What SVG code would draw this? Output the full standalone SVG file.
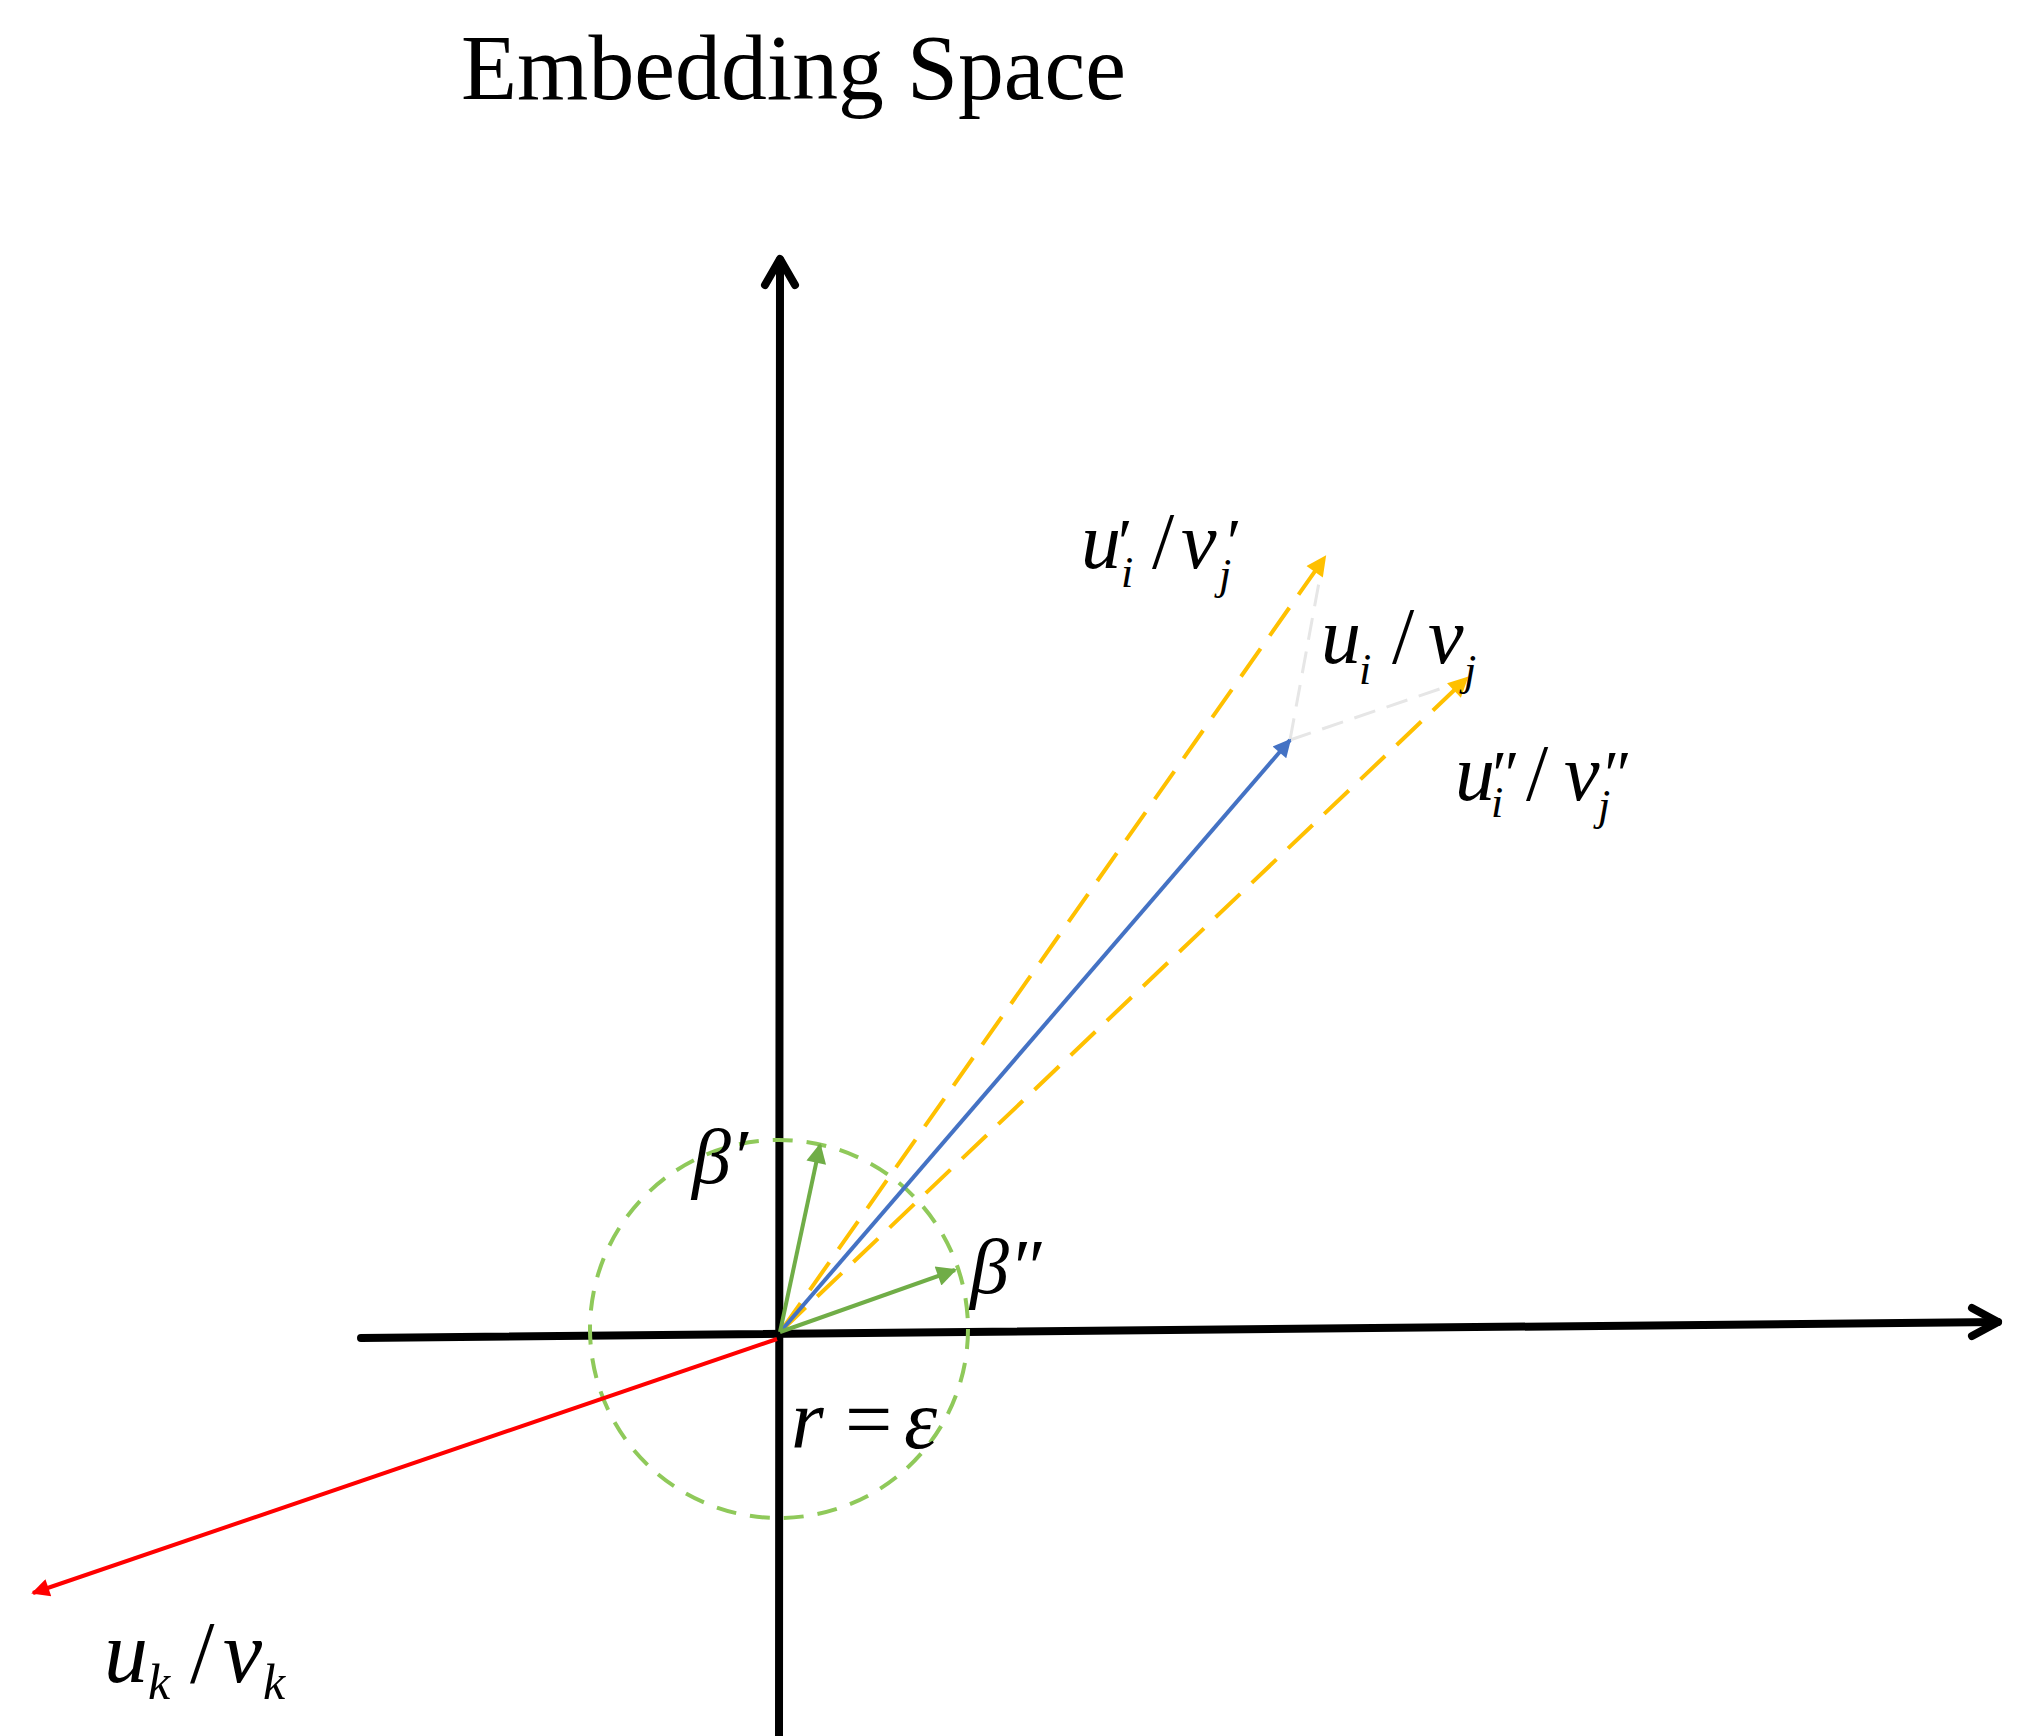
<svg xmlns="http://www.w3.org/2000/svg" width="2032" height="1736" viewBox="0 0 2032 1736">
<style>
.title{font-family:"Liberation Serif","Times New Roman",serif;font-size:94px;fill:#000}
.m{font-family:"Liberation Serif","Times New Roman",serif;font-style:italic;fill:#000}
.up{font-style:normal}
.axis{stroke:#000;stroke-width:8;fill:none;stroke-linecap:round;stroke-linejoin:round}
.blue{stroke:#4472C4;stroke-width:4;fill:none}
.yel{stroke:#FFC000;stroke-width:4;fill:none;stroke-dasharray:34 16}
.grey{stroke:#E6E6E6;stroke-width:3;fill:none;stroke-dasharray:22 12}
.green{stroke:#70AD47;stroke-width:4;fill:none}
.red{stroke:#FF0000;stroke-width:4;fill:none}
.circ{stroke:#8FC95A;stroke-width:4;fill:none;stroke-dasharray:20 14}
</style>
<defs>
<marker id="ab" viewBox="0 0 10 10" refX="9" refY="5" markerUnits="userSpaceOnUse" markerWidth="22" markerHeight="18" orient="auto"><path d="M0,0 L10,5 L0,10 Z" fill="#4472C4"/></marker>
<marker id="ay" viewBox="0 0 10 10" refX="9" refY="5" markerUnits="userSpaceOnUse" markerWidth="24" markerHeight="20" orient="auto"><path d="M0,0 L10,5 L0,10 Z" fill="#FFC000"/></marker>
<marker id="ag" viewBox="0 0 10 10" refX="9" refY="5" markerUnits="userSpaceOnUse" markerWidth="24" markerHeight="20" orient="auto"><path d="M0,0 L10,5 L0,10 Z" fill="#70AD47"/></marker>
<marker id="ar" viewBox="0 0 10 10" refX="9" refY="5" markerUnits="userSpaceOnUse" markerWidth="24" markerHeight="18" orient="auto"><path d="M0,0 L10,5 L0,10 Z" fill="#FF0000"/></marker>
</defs>
<rect width="2032" height="1736" fill="#fff"/>
<text id="title" class="title" x="461" y="99" textLength="665" lengthAdjust="spacingAndGlyphs">Embedding Space</text>
<g id="axes">
<path class="axis" d="M779,1736 L780,260"/>
<path class="axis" d="M765,285 L780,259 L795,285"/>
<path class="axis" d="M361,1338 L1998,1322"/>
<path class="axis" d="M1972,1308 L1998,1322 L1972,1336"/>
</g>
<g id="circle"><circle class="circ" cx="779" cy="1329" r="189"/></g>
<g id="connectors">
<line class="grey" x1="1290" y1="740" x2="1322" y2="566"/>
<line class="grey" x1="1290" y1="740" x2="1460" y2="682"/>
<line class="yel" x1="781" y1="1331" x2="1325" y2="557" marker-end="url(#ay)"/>
<line class="yel" x1="781" y1="1331" x2="1467" y2="678" marker-end="url(#ay)"/>
<line class="blue" x1="781" y1="1331" x2="1290" y2="740" marker-end="url(#ab)"/>
<line class="green" x1="780" y1="1332" x2="820" y2="1145" marker-end="url(#ag)"/>
<line class="green" x1="780" y1="1332" x2="955" y2="1270" marker-end="url(#ag)"/>
<line class="red" x1="777" y1="1339" x2="33" y2="1593" marker-end="url(#ar)"/>
</g>
<g id="label-uprime">
<text class="m" font-size="80"><tspan x="1081" y="568">u</tspan><tspan x="1114" y="564" font-size="66">′</tspan><tspan x="1121" y="587" font-size="44">i</tspan><tspan class="up" x="1152" y="568">/</tspan><tspan x="1181" y="568">v</tspan><tspan x="1223" y="564" font-size="66">′</tspan><tspan x="1219" y="589" font-size="44">j</tspan></text>
</g>
<g id="label-u">
<text class="m" font-size="80"><tspan x="1321" y="663">u</tspan><tspan x="1359" y="684" font-size="44">i</tspan><tspan class="up" x="1392" y="663">/</tspan><tspan x="1428" y="663">v</tspan><tspan x="1464" y="685" font-size="44">j</tspan></text>
</g>
<g id="label-udprime">
<text class="m" font-size="80"><tspan x="1455" y="800">u</tspan><tspan x="1488" y="796" font-size="66">″</tspan><tspan x="1491" y="817" font-size="44">i</tspan><tspan class="up" x="1526" y="800">/</tspan><tspan x="1564" y="800">v</tspan><tspan x="1600" y="796" font-size="66">″</tspan><tspan x="1598" y="820" font-size="44">j</tspan></text>
</g>
<g id="label-beta1"><text class="m" font-size="78" x="692" y="1183">β′</text></g>
<g id="label-beta2"><text class="m" font-size="78" x="970" y="1293">β″</text></g>
<g id="label-r"><text class="m" font-size="84"><tspan x="791" y="1448">r</tspan><tspan class="up" x="845" y="1448">=</tspan><tspan x="904" y="1448">ε</tspan></text></g>
<g id="label-uk">
<text class="m" font-size="88"><tspan x="104" y="1682">u</tspan><tspan x="148" y="1699" font-size="50">k</tspan><tspan class="up" x="190" y="1682">/</tspan><tspan x="223" y="1682">v</tspan><tspan x="263" y="1699" font-size="50">k</tspan></text>
</g>
</svg>
